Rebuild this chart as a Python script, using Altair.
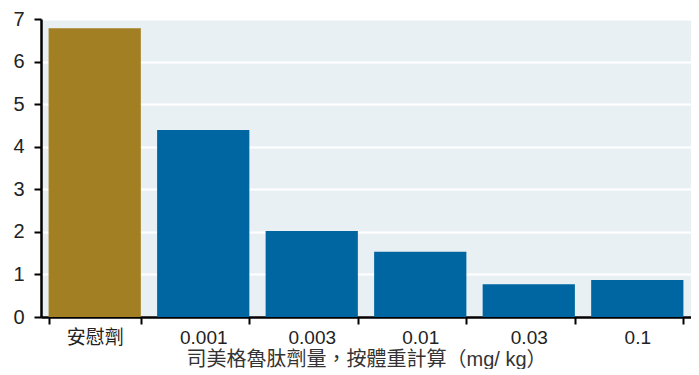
import altair as alt
import pandas as pd

categories = ["安慰劑", "0.001", "0.003", "0.01", "0.03", "0.1"]
values = [6.78, 4.39, 2.02, 1.53, 0.77, 0.87]
groups = ["placebo", "drug", "drug", "drug", "drug", "drug"]
y_ticks = [0, 1, 2, 3, 4, 5, 6, 7]
x_title = "司美格魯肽劑量，按體重計算（mg/ kg）"

df = pd.DataFrame({"dose": categories, "value": values, "group": groups})

FONT = "Liberation Sans, Noto Sans CJK TC, sans-serif"

chart = alt.Chart(df).mark_bar().encode(
    x=alt.X(
        "dose:N",
        sort=categories,
        scale=alt.Scale(paddingInner=0.15, paddingOuter=0.07),
        axis=alt.Axis(
            title=x_title,
            labelAngle=0,
            tickBand="extent",
            labelFontSize=19,
            titleFontSize=20,
            labelColor="#222222",
            titleColor="#333333",
            labelFont=FONT,
            titleFont=FONT,
            titleFontWeight="normal",
            labelPadding=4,
            titlePadding=2,
            tickSize=7,
            tickWidth=2,
            tickColor="#000000",
            domainColor="#000000",
            domainWidth=2.5,
            grid=False,
        ),
    ),
    y=alt.Y(
        "value:Q",
        scale=alt.Scale(domain=[0, 7], nice=False),
        axis=alt.Axis(
            title=None,
            values=y_ticks,
            labelFontSize=20,
            labelColor="#222222",
            labelFont=FONT,
            labelPadding=10,
            tickSize=7,
            tickWidth=2,
            tickColor="#000000",
            domainColor="#000000",
            domainWidth=2.5,
            grid=True,
            gridColor="#ffffff",
            gridWidth=2,
            minExtent=33,
        ),
    ),
    color=alt.Color(
        "group:N",
        scale=alt.Scale(domain=["placebo", "drug"], range=["#a37f24", "#0066a1"]),
        legend=None,
    ),
).properties(
    width=650,
    height=298,
    padding={"left": 0, "top": 1, "right": 0, "bottom": 0},
).configure_view(
    fill="#e8f0f4",
    stroke=None,
)

chart.save("out.html", embed_options={"renderer": "svg", "actions": False})
